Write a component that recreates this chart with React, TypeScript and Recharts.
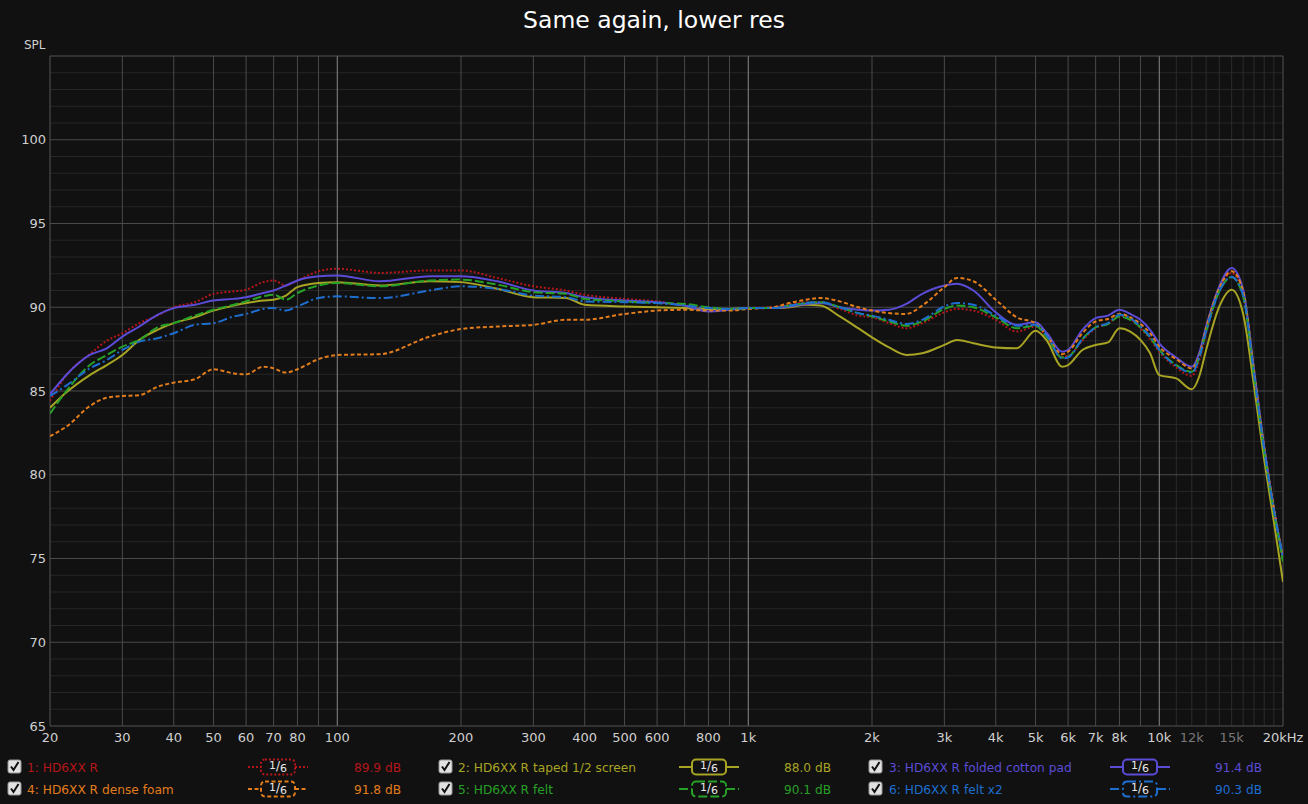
import React from 'react';
import { LineChart, Line, XAxis, YAxis, ReferenceLine } from 'recharts';

// frequency points (Hz) the traces were read at
const FREQ = [
  20, 22, 25, 27.5, 30, 33, 36.5, 40, 45, 50, 56, 60, 66, 70, 75, 80, 90, 100, 127, 168,
  200, 245, 300, 360, 400, 500, 600, 700, 800, 900, 1000, 1150, 1260, 1380, 1500, 1670, 1850, 2000, 2200, 2425,
  2650, 3000, 3220, 3530, 4000, 4500, 5000, 5330, 5800, 6000, 6500, 7000, 7500, 8000, 8500, 9000, 9500, 10000, 11000, 12000,
  12500, 13000, 14000, 15000, 16000, 17000, 18000, 19000, 20000,
];

// 1: HD6XX R
const HD6XX_R = [
  84.4, 86.0, 87.2, 88.0, 88.45, 89.05, 89.5, 90.0, 90.3, 90.8, 90.95, 91.05, 91.5, 91.6, 91.3, 91.6, 92.15, 92.3, 92.05, 92.2,
  92.2, 91.75, 91.25, 91.0, 90.75, 90.5, 90.35, 90.1, 89.9, 89.85, 89.95, 90.0, 90.15, 90.3, 90.3, 89.9, 89.5, 89.4, 89.05, 88.75,
  89.05, 89.7, 89.9, 89.8, 89.25, 88.55, 88.85, 88.2, 87.05, 87.1, 88.0, 88.75, 89.0, 89.5, 89.3, 88.75, 88.1, 87.35, 86.4, 85.9,
  86.8, 88.45, 91.05, 92.05, 90.85, 86.0, 81.5, 77.9, 75.0,
];

// 2: HD6XX R taped 1/2 screen
const TAPED = [
  84.0, 84.95, 85.95, 86.55, 87.15, 88.05, 88.65, 89.05, 89.4, 89.8, 90.1, 90.25, 90.4, 90.45, 90.7, 91.2, 91.45, 91.5, 91.3, 91.55,
  91.5, 91.1, 90.6, 90.55, 90.15, 90.05, 90.0, 89.95, 89.9, 89.9, 89.95, 89.95, 90.0, 90.15, 90.1, 89.45, 88.75, 88.2, 87.6, 87.15,
  87.25, 87.75, 88.05, 87.85, 87.6, 87.55, 88.6, 88.0, 86.45, 86.55, 87.45, 87.75, 87.9, 88.75, 88.55, 88.05, 87.25, 85.95, 85.75, 85.1,
  85.85, 87.45, 90.05, 91.05, 89.6, 85.3, 80.9, 77.2, 73.6,
];

// 3: HD6XX R folded cotton pad
const COTTON = [
  84.8, 86.0, 87.15, 87.55, 88.25, 88.85, 89.55, 89.95, 90.15, 90.4, 90.5, 90.6, 90.85, 91.0, 91.3, 91.6, 91.85, 91.9, 91.55, 91.85,
  91.85, 91.55, 91.0, 90.85, 90.6, 90.4, 90.3, 90.1, 89.75, 89.85, 89.95, 89.95, 90.05, 90.2, 90.25, 90.0, 89.85, 89.8, 89.85, 90.2,
  90.8, 91.3, 91.4, 91.0, 89.7, 88.95, 89.1, 88.45, 87.35, 87.45, 88.65, 89.35, 89.5, 89.85, 89.6, 89.25, 88.65, 87.85, 87.0, 86.45,
  87.25, 88.85, 91.25, 92.35, 91.05, 86.3, 81.7, 78.0, 75.0,
];

// 4: HD6XX R dense foam
const FOAM = [
  82.3, 82.9, 84.1, 84.6, 84.7, 84.75, 85.25, 85.5, 85.7, 86.3, 86.05, 86.0, 86.45, 86.35, 86.1, 86.3, 86.9, 87.15, 87.2, 88.25,
  88.7, 88.85, 88.95, 89.25, 89.25, 89.6, 89.8, 89.85, 89.8, 89.8, 89.9, 90.0, 90.25, 90.45, 90.55, 90.35, 90.0, 89.8, 89.65, 89.6,
  90.1, 91.2, 91.75, 91.55, 90.45, 89.4, 89.05, 88.3, 87.2, 87.35, 88.45, 89.15, 89.3, 89.6, 89.4, 89.0, 88.45, 87.65, 86.9, 86.35,
  87.1, 88.75, 91.15, 92.15, 90.95, 86.2, 81.6, 78.0, 75.0,
];

// 5: HD6XX R felt
const FELT = [
  83.65, 85.05, 86.55, 87.15, 87.65, 88.05, 88.8, 89.05, 89.5, 89.85, 90.15, 90.35, 90.65, 90.75, 90.45, 90.85, 91.3, 91.45, 91.25, 91.6,
  91.65, 91.35, 90.9, 90.8, 90.5, 90.35, 90.25, 90.2, 90.0, 89.9, 89.95, 89.95, 90.1, 90.25, 90.3, 90.0, 89.65, 89.45, 89.15, 88.9,
  89.15, 89.9, 90.1, 90.0, 89.4, 88.75, 88.9, 88.2, 87.0, 87.05, 88.1, 88.8, 89.0, 89.45, 89.25, 88.8, 88.2, 87.45, 86.55, 86.15,
  87.0, 88.55, 90.95, 91.8, 90.65, 85.9, 81.4, 77.8, 74.8,
];

// 6: HD6XX R felt x2
const FELT_X2 = [
  84.7, 85.35, 86.35, 86.85, 87.45, 87.95, 88.15, 88.45, 88.95, 89.05, 89.45, 89.6, 89.9, 89.95, 89.8, 90.05, 90.55, 90.65, 90.55, 91.0,
  91.25, 91.1, 90.7, 90.6, 90.35, 90.3, 90.25, 90.1, 89.95, 89.9, 89.95, 89.95, 90.1, 90.25, 90.3, 90.0, 89.65, 89.5, 89.25, 89.0,
  89.25, 90.05, 90.25, 90.15, 89.5, 88.9, 88.95, 88.3, 86.95, 87.0, 88.1, 88.8, 89.05, 89.55, 89.35, 88.85, 88.25, 87.45, 86.5, 86.1,
  86.95, 88.55, 90.95, 91.8, 90.7, 86.0, 81.5, 77.9, 75.1,
];

const SERIES = [
  { key: 's1', name: '1: HD6XX R', spl: '89.9 dB', color: '#b4161a', dash: '2 2', values: HD6XX_R },
  { key: 's2', name: '2: HD6XX R taped 1/2 screen', spl: '88.0 dB', color: '#a8a424', dash: undefined, values: TAPED },
  { key: 's3', name: '3: HD6XX R folded cotton pad', spl: '91.4 dB', color: '#5a4cd6', dash: undefined, values: COTTON },
  { key: 's4', name: '4: HD6XX R dense foam', spl: '91.8 dB', color: '#e27c1c', dash: '4 2.5', values: FOAM },
  { key: 's5', name: '5: HD6XX R felt', spl: '90.1 dB', color: '#26a026', dash: '9 3', values: FELT },
  { key: 's6', name: '6: HD6XX R felt x2', spl: '90.3 dB', color: '#1e6ed0', dash: '9 3 2 3', values: FELT_X2 },
];

const Y_TICKS = [65, 70, 75, 80, 85, 90, 95, 100];
const X_TICKS = [20, 30, 40, 50, 60, 70, 80, 100, 200, 300, 400, 500, 600, 800, 1000, 2000, 3000, 4000, 5000, 6000, 7000, 8000, 10000, 12000, 15000, 20000];
const X_LABELS = ['20', '30', '40', '50', '60', '70', '80', '100', '200', '300', '400', '500', '600', '800', '1k', '2k', '3k', '4k', '5k', '6k', '7k', '8k', '10k', '12k', '15k', '20kHz'];
const X_DIM_LABELS = [12000, 15000];

const X_GRID = [30, 40, 50, 60, 70, 80, 90, 200, 300, 400, 500, 600, 700, 800, 900, 2000, 3000, 4000, 5000, 6000, 7000, 8000, 9000];
const X_GRID_BRIGHT = [100, 1000, 10000];
const X_GRID_MINOR = [11000, 12000, 13000, 14000, 15000, 16000, 17000, 18000, 19000];
const Y_GRID_MAJOR = [70, 75, 80, 85, 90, 95, 100];
const Y_GRID_MINOR = [66, 67, 68, 69, 71, 72, 73, 74, 76, 77, 78, 79, 81, 82, 83, 84, 86, 87, 88, 89, 91, 92, 93, 94, 96, 97, 98, 99, 101, 102, 103, 104];

const data = FREQ.map((f, i) => {
  const row: any = { f };
  SERIES.forEach(s => { row[s.key] = s.values[i]; });
  return row;
});

const FONT = '"DejaVu Sans", sans-serif';

const XTick = ({ x, y, payload }: any) => {
  const i = X_TICKS.indexOf(payload.value);
  const dim = X_DIM_LABELS.includes(payload.value);
  return (
    <text x={x} y={y} dy="0.71em" textAnchor="middle" fill={dim ? '#777' : '#cfcfcf'} fontSize={13} fontFamily={FONT}>
      {X_LABELS[i]}
    </text>
  );
};

const CheckBox = ({ x, y }: { x: number; y: number }) => (
  <g>
    <rect x={x} y={y} width={13} height={13} rx={2} fill="#e2e2e2" stroke="#999" />
    <path d={`M${x + 3} ${y + 6.5} L${x + 5.5} ${y + 10} L${x + 10.5} ${y + 2}`} stroke="#111" strokeWidth={2} fill="none" />
  </g>
);

const Smoothing = ({ cx, cy, color, dash }: any) => (
  <g>
    <line x1={cx - 30} x2={cx - 17} y1={cy} y2={cy} stroke={color} strokeWidth={2} strokeDasharray={dash} />
    <line x1={cx + 17} x2={cx + 30} y1={cy} y2={cy} stroke={color} strokeWidth={2} strokeDasharray={dash} />
    <rect x={cx - 17} y={cy - 7.5} width={34} height={15} rx={4} fill="#111" stroke={color} strokeWidth={2} strokeDasharray={dash} />
    <text x={cx} y={cy + 4} textAnchor="middle" fill="#e8e8e8" fontSize={12} fontFamily={FONT}>
      <tspan fontSize={11} dy={-2}>1</tspan>
      <tspan dy={1}>/</tspan>
      <tspan fontSize={11} dy={2}>6</tspan>
    </text>
  </g>
);

const LEGEND_COLS = [
  { box: 8, text: 27, mid: 278, val: 401 },
  { box: 439, text: 458, mid: 709, val: 831 },
  { box: 869, text: 889, mid: 1140, val: 1262 },
];
const LEGEND_ROWS = [767, 789];

const LegendBlock = () => (
  <svg width={1308} height={60} style={{ position: 'absolute', left: 0, top: 744 }}>
    {SERIES.map((s, i) => {
      const col = LEGEND_COLS[i % 3];
      const cy = LEGEND_ROWS[Math.floor(i / 3)] - 744;
      return (
        <g key={s.key}>
          <CheckBox x={col.box} y={cy - 7} />
          <text x={col.text} y={cy + 4.5} fill={s.color} fontSize={12.2} fontFamily={FONT}>{s.name}</text>
          <Smoothing cx={col.mid} cy={cy} color={s.color} dash={s.dash} />
          <text x={col.val} y={cy + 4.5} textAnchor="end" fill={s.color} fontSize={12.2} fontFamily={FONT}>{s.spl}</text>
        </g>
      );
    })}
  </svg>
);

export default function App() {
  return (
    <div style={{ position: 'fixed', left: 0, top: 0, width: 1308, height: 804, background: '#111111', fontFamily: FONT, overflow: 'hidden' }}>
      <div style={{ position: 'absolute', top: 6, width: 1308, textAlign: 'center', color: '#ffffff', fontSize: 23.5 }}>
        Same again, lower res
      </div>
      <div style={{ position: 'absolute', left: 24, top: 38, color: '#cfcfcf', fontSize: 12 }}>SPL</div>
      <div style={{ position: 'absolute', left: 0, top: 0 }}>
        <LineChart width={1308} height={804} data={data} margin={{ top: 56, right: 25, bottom: 58, left: 0 }}>
          <XAxis
            dataKey="f"
            type="number"
            scale="log"
            domain={[20, 20000]}
            ticks={X_TICKS}
            interval={0}
            height={20}
            axisLine={false}
            tickLine={false}
            tickSize={0}
            tickMargin={7}
            tick={<XTick />}
            allowDataOverflow
          />
          <YAxis
            type="number"
            domain={[65, 105]}
            ticks={Y_TICKS}
            interval={0}
            width={50}
            axisLine={false}
            tickLine={false}
            tickSize={0}
            tickMargin={4}
            tick={{ fill: '#cfcfcf', fontSize: 13, fontFamily: FONT }}
            allowDataOverflow
          />
          {Y_GRID_MINOR.map(v => <ReferenceLine key={`ym${v}`} y={v} stroke="#262626" strokeWidth={1} />)}
          {X_GRID_MINOR.map(v => <ReferenceLine key={`xm${v}`} x={v} stroke="#2c2c2c" strokeWidth={1} />)}
          {Y_GRID_MAJOR.map(v => <ReferenceLine key={`y${v}`} y={v} stroke="#4a4a4a" strokeWidth={1} />)}
          {X_GRID.map(v => <ReferenceLine key={`x${v}`} x={v} stroke="#4a4a4a" strokeWidth={1} />)}
          {X_GRID_BRIGHT.map(v => <ReferenceLine key={`xb${v}`} x={v} stroke="#8a8a8a" strokeWidth={1} />)}
          <ReferenceLine y={65} stroke="#555" strokeWidth={1} />
          <ReferenceLine y={105} stroke="#555" strokeWidth={1} />
          <ReferenceLine x={20} stroke="#555" strokeWidth={1} />
          <ReferenceLine x={20000} stroke="#555" strokeWidth={1} />
          {SERIES.map(s => (
            <Line
              key={s.key}
              dataKey={s.key}
              name={s.name}
              type="monotone"
              stroke={s.color}
              strokeWidth={2}
              strokeDasharray={s.dash}
              dot={false}
              activeDot={false}
              isAnimationActive={false}
            />
          ))}
        </LineChart>
      </div>
      <LegendBlock />
    </div>
  );
}
